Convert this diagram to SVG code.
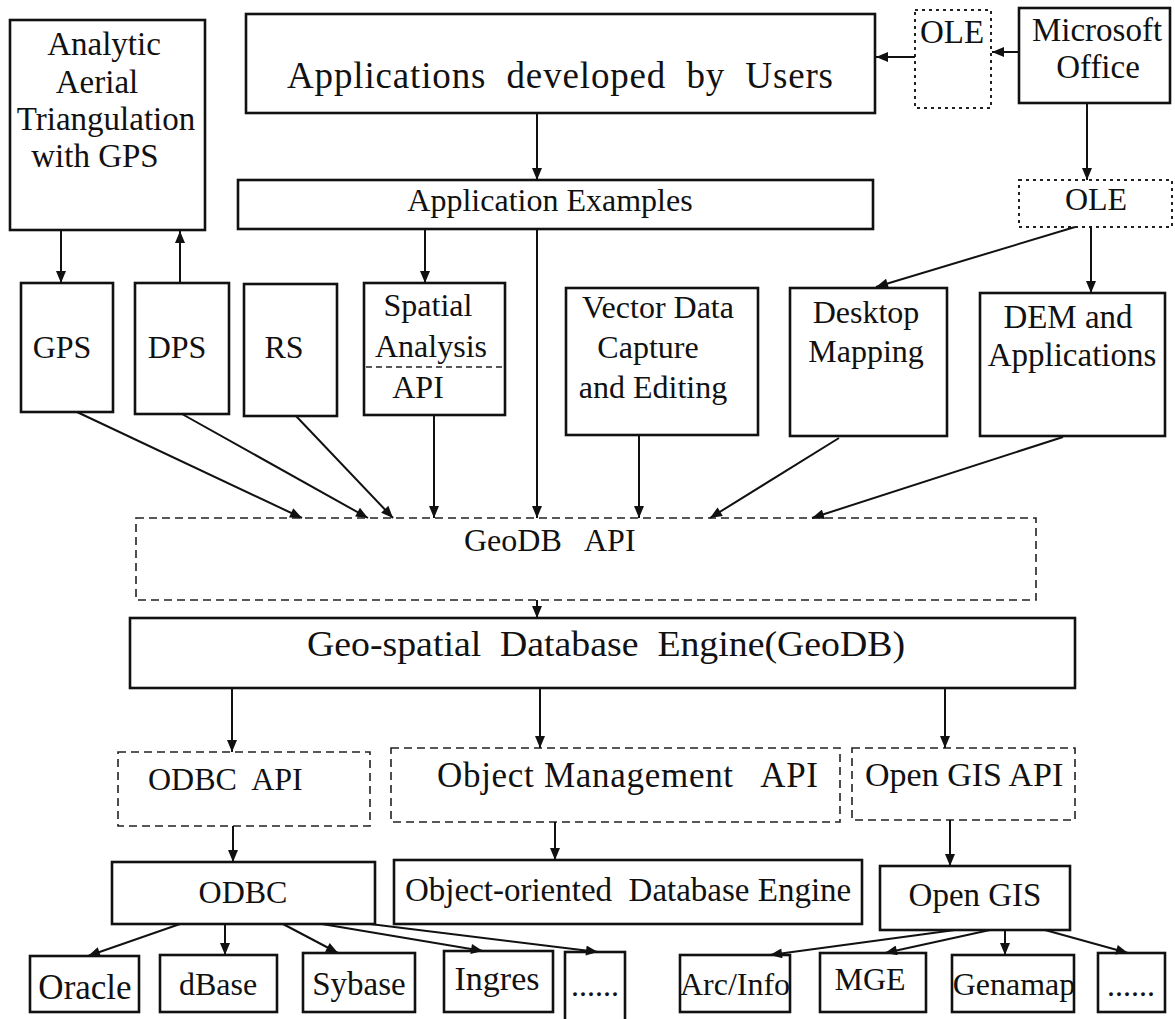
<svg xmlns="http://www.w3.org/2000/svg" width="1175" height="1019" viewBox="0 0 1175 1019">
<defs>
<marker id="ah" viewBox="0 0 12 10" refX="12" refY="5" markerWidth="13" markerHeight="10" markerUnits="userSpaceOnUse" orient="auto">
<path d="M0,0 L12,5 L0,10 z" fill="#111"/>
</marker>
</defs>
<style>
.b{fill:#fff;stroke:#111;stroke-width:2.6}
.d{fill:#fff;stroke:#222;stroke-width:1.6;stroke-dasharray:8 5}
.o{fill:#fff;stroke:#222;stroke-width:2;stroke-dasharray:3 4}
.t{font-family:"Liberation Serif","Times New Roman",serif;font-size:32px;fill:#111;white-space:pre}
.m{text-anchor:middle}
.c line{stroke:#111;stroke-width:2;marker-end:url(#ah)}
</style>
<rect width="1175" height="1019" fill="#fff"/>

<g id="analytic"><rect class="b" x="10" y="20" width="195" height="210"/>
<text class="t m" x="104" y="55" style="font-size:33px">Analytic</text><text class="t m" x="97" y="93" style="font-size:33px">Aerial</text><text class="t m" x="106" y="130" style="font-size:33px">Triangulation</text><text class="t m" x="95" y="167" style="font-size:33px">with GPS</text></g>
<g id="apps"><rect class="b" x="246" y="14" width="629" height="99"/><text class="t" x="287" y="88" style="font-size:37px" textLength="546" lengthAdjust="spacing" xml:space="preserve">Applications  developed  by  Users</text></g>
<g id="ole1"><rect class="o" x="915" y="10" width="76" height="98"/><text class="t m" x="952" y="43" style="font-size:33px">OLE</text></g>
<g id="msoffice"><rect class="b" x="1019" y="8" width="151" height="95"/><text class="t m" x="1097" y="41" style="font-size:33px">Microsoft</text><text class="t m" x="1098" y="78" style="font-size:33px">Office</text></g>
<g id="appex"><rect class="b" x="238" y="180" width="635" height="49"/><text class="t m" x="550" y="211">Application Examples</text></g>
<g id="ole2"><rect class="o" x="1019" y="180" width="153" height="47"/><text class="t m" x="1096" y="210">OLE</text></g>

<g id="gps"><rect class="b" x="21" y="283" width="92" height="129"/><text class="t m" x="62" y="358">GPS</text></g>
<g id="dps"><rect class="b" x="135" y="283" width="94" height="131"/><text class="t m" x="177" y="358">DPS</text></g>
<g id="rs"><rect class="b" x="244" y="284" width="93" height="132"/><text class="t m" x="284" y="358">RS</text></g>
<g id="spatial"><rect class="b" x="364" y="283" width="141" height="132"/><line x1="366" y1="367" x2="502" y2="367" stroke="#222" stroke-width="1.5" stroke-dasharray="6 4"/>
<text class="t m" x="428" y="316">Spatial</text><text class="t m" x="431" y="357">Analysis</text><text class="t m" x="418" y="398">API</text></g>
<g id="vector"><rect class="b" x="566" y="288" width="192" height="147"/><text class="t m" x="658" y="318">Vector Data</text><text class="t m" x="648" y="358">Capture</text><text class="t m" x="653" y="398">and Editing</text></g>
<g id="desktop"><rect class="b" x="790" y="288" width="157" height="148"/><text class="t m" x="866" y="323">Desktop</text><text class="t m" x="866" y="362">Mapping</text></g>
<g id="dem"><rect class="b" x="980" y="293" width="185" height="143"/><text class="t m" x="1068" y="328" style="font-size:33px">DEM and</text><text class="t m" x="1072" y="366" style="font-size:33px">Applications</text></g>

<g id="geodbapi"><rect class="d" x="136" y="518" width="900" height="82"/><text class="t" x="464" y="551" xml:space="preserve">GeoDB   API</text></g>
<g id="geospatial"><rect class="b" x="130" y="618" width="945" height="70"/><text class="t" x="307" y="656" style="font-size:36px" textLength="598" lengthAdjust="spacingAndGlyphs" xml:space="preserve">Geo-spatial  Database  Engine(GeoDB)</text></g>

<g id="odbcapi"><rect class="d" x="118" y="752" width="252" height="74"/><text class="t" x="148" y="790" xml:space="preserve">ODBC  API</text></g>
<g id="objapi"><rect class="d" x="391" y="748" width="449" height="74"/><text class="t" x="437" y="787" style="font-size:35px" textLength="381" lengthAdjust="spacing" xml:space="preserve">Object Management   API</text></g>
<g id="ogisapi"><rect class="d" x="852" y="748" width="223" height="72"/><text class="t" x="865" y="786" style="font-size:34px">Open GIS API</text></g>

<g id="odbc"><rect class="b" x="112" y="862" width="263" height="62"/><text class="t m" x="243" y="903">ODBC</text></g>
<g id="oodb"><rect class="b" x="394" y="860" width="468" height="64"/><text class="t" x="405" y="901" style="font-size:33px" xml:space="preserve">Object-oriented  Database Engine</text></g>
<g id="ogis"><rect class="b" x="880" y="866" width="190" height="64"/><text class="t m" x="975" y="906" style="font-size:33px">Open GIS</text></g>

<g id="oracle"><rect class="b" x="30" y="956" width="109" height="56"/><text class="t m" x="85" y="999" style="font-size:35px">Oracle</text></g>
<g id="dbase"><rect class="b" x="160" y="955" width="117" height="57"/><text class="t m" x="218" y="995">dBase</text></g>
<g id="sybase"><rect class="b" x="303" y="953" width="112" height="59"/><text class="t m" x="359" y="995" style="font-size:33px">Sybase</text></g>
<g id="ingres"><rect class="b" x="444" y="951" width="109" height="61"/><text class="t m" x="497" y="990" style="font-size:34px">Ingres</text></g>
<g id="dots1"><rect class="b" x="565" y="952" width="60" height="70"/><text class="t" x="571" y="996">......</text></g>
<g id="arcinfo"><rect class="b" x="680" y="955" width="110" height="57"/><text class="t m" x="735" y="995">Arc/Info</text></g>
<g id="mge"><rect class="b" x="820" y="953" width="106" height="59"/><text class="t m" x="870" y="990">MGE</text></g>
<g id="genamap"><rect class="b" x="952" y="955" width="122" height="57"/><text class="t m" x="1014" y="995">Genamap</text></g>
<g id="dots2"><rect class="b" x="1098" y="953" width="67" height="59"/><text class="t" x="1107" y="996">......</text></g>

<g id="connectors" class="c">
<line x1="537" y1="113" x2="537" y2="180"/>
<line x1="1019" y1="52" x2="992" y2="52"/>
<line x1="915" y1="57" x2="876" y2="57"/>
<line x1="1087" y1="103" x2="1087" y2="180"/>
<line x1="1075" y1="227" x2="876" y2="287"/>
<line x1="1091" y1="227" x2="1091" y2="293"/>
<line x1="61" y1="230" x2="61" y2="283"/>
<line x1="180" y1="283" x2="180" y2="231"/>
<line x1="425" y1="229" x2="425" y2="283"/>
<line x1="537" y1="229" x2="537" y2="518"/>
<line x1="77" y1="412" x2="302" y2="518"/>
<line x1="182" y1="414" x2="368" y2="518"/>
<line x1="296" y1="416" x2="393" y2="518"/>
<line x1="434" y1="415" x2="434" y2="518"/>
<line x1="639" y1="435" x2="639" y2="518"/>
<line x1="839" y1="438" x2="710" y2="518"/>
<line x1="1063" y1="437" x2="812" y2="518"/>
<line x1="537" y1="600" x2="537" y2="618"/>
<line x1="232" y1="688" x2="232" y2="752"/>
<line x1="540" y1="688" x2="540" y2="748"/>
<line x1="945" y1="688" x2="945" y2="748"/>
<line x1="233" y1="826" x2="233" y2="862"/>
<line x1="555" y1="822" x2="555" y2="860"/>
<line x1="950" y1="820" x2="950" y2="866"/>
<line x1="180" y1="924" x2="88" y2="956"/>
<line x1="225" y1="924" x2="225" y2="955"/>
<line x1="283" y1="924" x2="338" y2="953"/>
<line x1="322" y1="924" x2="483" y2="951"/>
<line x1="370" y1="924" x2="598" y2="952"/>
<line x1="955" y1="930" x2="770" y2="955"/>
<line x1="990" y1="930" x2="885" y2="953"/>
<line x1="1005" y1="930" x2="1005" y2="955"/>
<line x1="1045" y1="930" x2="1128" y2="953"/>
</g>
</svg>
